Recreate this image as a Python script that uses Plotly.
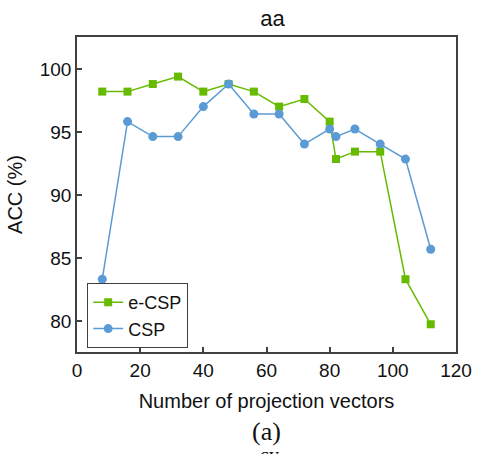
import plotly.graph_objects as go

x_vals = [8, 16, 24, 32, 40, 48, 56, 64, 72, 80, 82, 88, 96, 104, 112]
ecsp = [98.21, 98.21, 98.81, 99.40, 98.21, 98.81, 98.21, 97.02, 97.62, 95.83, 92.86, 93.45, 93.45, 83.33, 79.76]
csp = [83.33, 95.83, 94.64, 94.64, 97.02, 98.81, 96.43, 96.43, 94.05, 95.24, 94.64, 95.24, 94.05, 92.86, 85.71]

x_ticks = [0, 20, 40, 60, 80, 100, 120]
y_ticks = [80, 85, 90, 95, 100]

green = "#66bb00"
blue = "#5b9bd5"
axis_col = "#404040"
font_fam = "Liberation Sans, Arial, sans-serif"

fig = go.Figure()
fig.add_trace(go.Scatter(x=x_vals, y=ecsp, name="e-CSP", mode="lines+markers",
                         line=dict(color=green, width=1.5),
                         marker=dict(symbol="square", size=8, color=green)))
fig.add_trace(go.Scatter(x=x_vals, y=csp, name="CSP", mode="lines+markers",
                         line=dict(color=blue, width=1.5),
                         marker=dict(symbol="circle", size=9, color=blue)))

fig.update_layout(
    width=484, height=454,
    margin=dict(l=77, r=16, t=37, b=102),
    paper_bgcolor="white", plot_bgcolor="white",
    font=dict(family=font_fam, size=19, color="#111111"),
    title=dict(text="aa", x=(272.5 - 0) / 484, xanchor="center", y=1 - 18 / 454, yanchor="middle",
               font=dict(size=22)),
    showlegend=True,
    legend=dict(x=(87.5 - 77) / 391, y=(352 - 315.5) / 315, xanchor="left", yanchor="middle",
                bordercolor=axis_col, borderwidth=1, bgcolor="white",
                font=dict(size=18), tracegroupgap=0),
    xaxis=dict(range=[0, 120], tickvals=x_ticks, showgrid=False, zeroline=False,
               showline=True, linecolor=axis_col, linewidth=1.5, mirror=True,
               ticks="inside", ticklen=5, tickcolor=axis_col, tickwidth=1.5,
               tickfont=dict(size=19),
               title=dict(text="Number of projection vectors", font=dict(size=20), standoff=14)),
    yaxis=dict(range=[77.56, 102.54], tickvals=y_ticks, showgrid=False, zeroline=False,
               showline=True, linecolor=axis_col, linewidth=1.5, mirror=True,
               ticks="inside", ticklen=5, tickcolor=axis_col, tickwidth=1.5,
               tickfont=dict(size=19),
               title=dict(text="ACC (%)", font=dict(size=20), standoff=12)),
    annotations=[
        dict(text="(a)", xref="paper", yref="paper", x=(272 - 77) / 391, y=(352 - 431) / 315,
             xanchor="center", yanchor="middle", showarrow=False,
             font=dict(family="Liberation Serif, Times New Roman, serif", size=26, color="#111111")),
        dict(text="cy", xref="paper", yref="paper", x=(276 - 77) / 391, y=(352 - 442) / 315,
             xanchor="center", yanchor="top", showarrow=False,
             font=dict(family="Liberation Serif, Times New Roman, serif", size=20, color="#111111")),
    ],
)

fig.write_html("out.html")
